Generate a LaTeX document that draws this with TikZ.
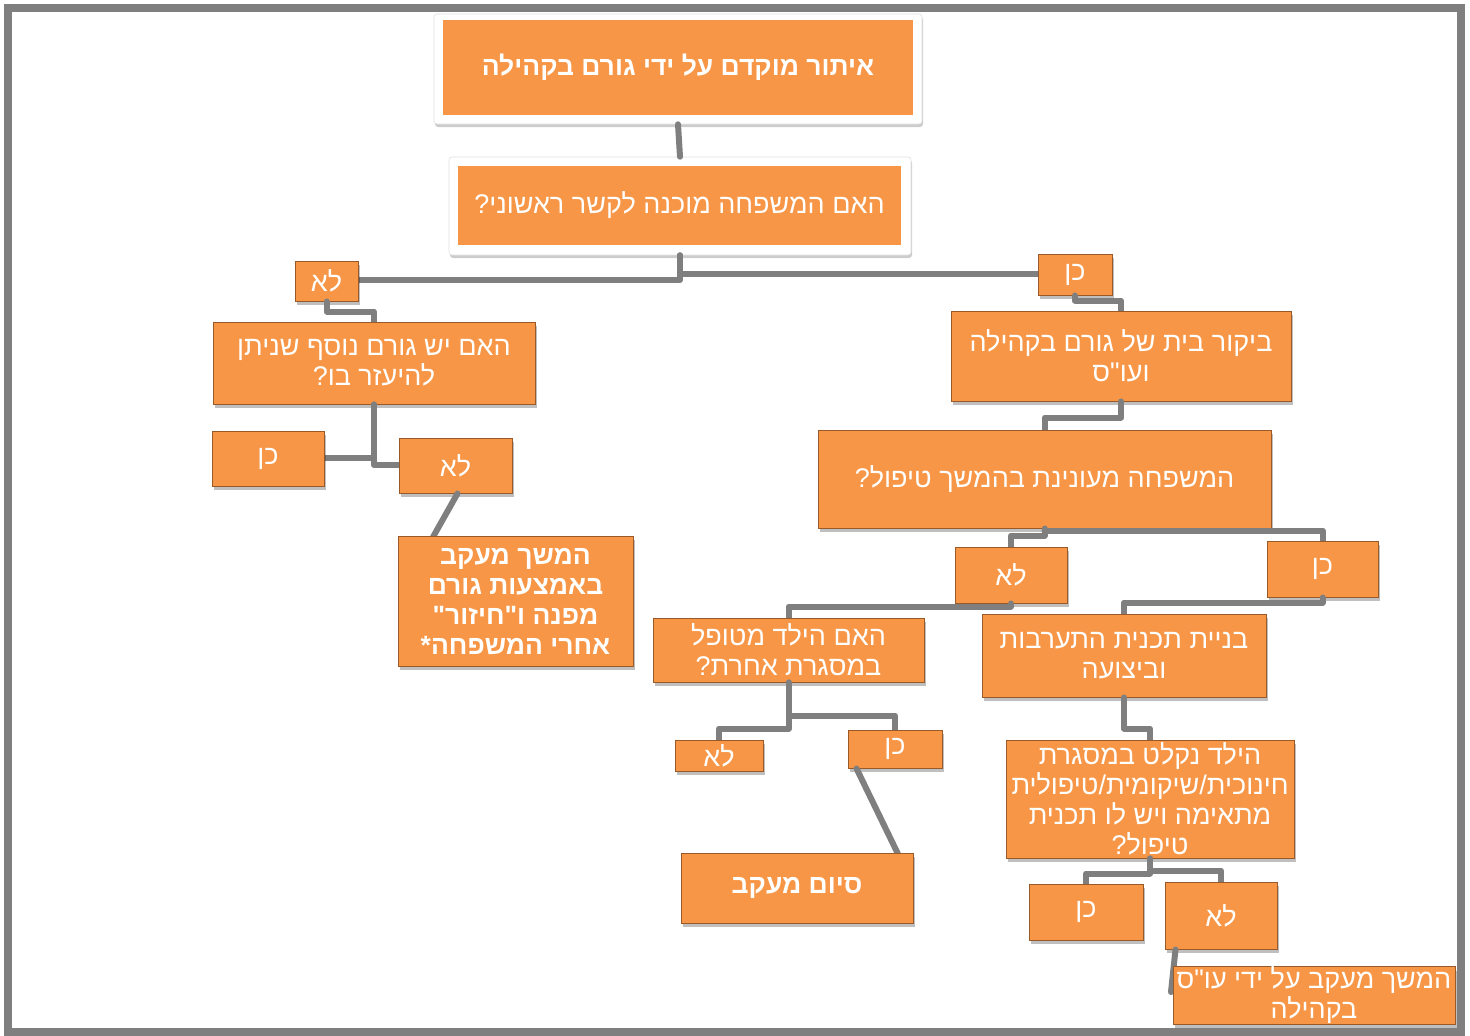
\documentclass[tikz,border=0pt]{standalone}
\usepackage{fontspec}
\setmainfont{Liberation Sans}
\newfontfamily\hebfont[Script=Hebrew]{Liberation Sans}
\TeXXeTstate=1
\usetikzlibrary{shadows,calc}
\newcommand\heb[1]{\beginR #1\endR}
\definecolor{orng}{HTML}{F79646}
\definecolor{obrd}{HTML}{9A5A28}
\definecolor{lgray}{HTML}{7F7F7F}
\tikzset{
  obox/.style={fill=orng, draw=obrd, line width=1pt, text=white, align=center, inner sep=0pt,
    font=\hebfont\fontsize{27}{30}\selectfont,
    drop shadow={shadow xshift=2pt, shadow yshift=-4pt, opacity=0.25, fill=black}},
  fbox/.style={fill=orng, draw=none, text=white, align=center, inner sep=0pt,
    font=\hebfont\fontsize{27}{30}\selectfont},
  wframe/.style={fill=white, draw=black!12, line width=0.6pt, rounded corners=3pt, inner sep=0pt,
    drop shadow={shadow xshift=1pt, shadow yshift=-3pt, opacity=0.2, fill=black}},
  boldtext/.style={font=\hebfont\bfseries\fontsize{26.5}{30}\selectfont},
  conn/.style={draw=lgray, line width=6pt, line join=round, line cap=round},
  sz/.style 2 args={minimum width=#1pt, minimum height=#2pt}
}
\begin{document}
\begin{tikzpicture}[x=1pt,y=-1pt]
\useasboundingbox (0,0) rectangle (1470,1036);
\fill[white] (0,0) rectangle (1470,1036);

% ---------- top frames ----------
\path
 (678,69)     node[wframe, sz={488}{110}] (titleF) {}
 (680,206)    node[wframe, sz={462}{98}] (q1F) {};
\node[fbox, boldtext, sz={470}{95}] (title) at (678,67.5) {\heb{איתור מוקדם על ידי גורם בקהילה}};
\node[fbox, sz={443}{79}] (q1) at (679.5,205.5) {\heb{האם המשפחה מוכנה לקשר ראשוני?}};

\draw[conn] (titleF.south) -- (q1F.north);
\draw[conn] (q1F.south) |- (357,280) coordinate (n1r);
\draw[conn] (q1F.south) |- (1040,274) coordinate (y1l);

\node[obox, sz={63}{40}] (n1) at (326.5,281) {\heb{לא}};
\node[obox, sz={74}{41}] (y1) at (1075,274.5) {\heb{כן}};

% left branch
\coordinate (q2n) at (374,322);
\draw[conn] (n1.south) -- ++(0,10) -| (q2n);
\node[obox, sz={322}{82}] (q2) at (374,363) {\heb{האם יש גורם נוסף שניתן}\\\heb{להיעזר בו?}};
\draw[conn] (q2.south) |- (323,458);
\draw[conn] (q2.south) |- (400,465);
\node[obox, sz={112}{55}] (y2) at (268,458.5) {\heb{כן}};
\node[obox, sz={113}{55}] (n2) at (455.5,465.5) {\heb{לא}};
\draw[conn] ($(n2.south)+(2,0)$) -- (433,537);
\node[obox, boldtext, sz={235}{130}] (c1) at (515.5,601) {\heb{המשך מעקב}\\\heb{באמצעות גורם}\\\heb{מפנה ו"חיזור"}\\\heb{אחרי המשפחה*}};

% right branch
\draw[conn] (y1.south) -- ++(0,5) -| (1121,312);
\node[obox, sz={340}{90}] (visit) at (1121,356) {\heb{ביקור בית של גורם בקהילה}\\\heb{ועו"ס}};
\draw[conn] (visit.south) -- ++(0,16) -| (1044.5,431);
\node[obox, sz={453}{98}] (fam) at (1044.5,479) {\heb{המשפחה מעונינת בהמשך טיפול?}};
\draw[conn] ($(fam.south)+(0,2)$) -| (1322.5,542);
\draw[conn] (fam.south) -- ++(0,7) -| (1011,548);
\node[obox, sz={112}{56}] (n3) at (1011,575) {\heb{לא}};
\node[obox, sz={111}{56}] (y3) at (1322.5,569) {\heb{כן}};

\draw[conn] (n3.south) -- ++(0,3) -| (788.5,619);
\draw[conn] (y3.south) -- ++(0,5) -| (1124,615);
\node[obox, sz={271}{64}] (child) at (788.5,650) {\heb{האם הילד מטופל}\\\heb{במסגרת אחרת?}};
\node[obox, sz={284}{83}] (plan) at (1124,655.5) {\heb{בניית תכנית התערבות}\\\heb{וביצועה}};

\draw[conn] (child.south) -- ++(0,33) -| (895,731);
\draw[conn] (child.south) -- ++(0,46) -| (719,741);
\node[obox, sz={88}{31}] (n5) at (719,755.5) {\heb{לא}};
\node[obox, sz={94}{38}] (y5) at (895,749) {\heb{כן}};
\draw[conn] ($(y5.south west)+(9,0)$) -- (898,854);
\node[obox, boldtext, sz={232}{70}] (endb) at (797,888) {\heb{סיום מעקב}};

\draw[conn] (plan.south) -- ++(0,31) -| (1150,741);
\node[obox, sz={288}{118}] (abs) at (1150,799) {\heb{הילד נקלט במסגרת}\\\heb{חינוכית/שיקומית/טיפולית}\\\heb{מתאימה ויש לו תכנית}\\\heb{טיפול?}};
\draw[conn] (abs.south) -- ++(0,15) -| (1086,885);
\draw[conn] (abs.south) -- ++(0,12) -| (1221,883);
\node[obox, sz={114}{56}] (y4) at (1086,912) {\heb{כן}};
\node[obox, sz={112}{67}] (n4) at (1221,915.5) {\heb{לא}};
\draw[conn] ($(n4.south west)+(11,0)$) -- (1171,992);
\node[obox, sz={282}{55}] (last) at (1314,995.5) {\heb{המשך מעקב על ידי עו"ס}\\\heb{בקהילה}};

% outer frame
\draw[lgray, line width=8pt] (8,8) rectangle (1461,1032);
\end{tikzpicture}
\end{document}
